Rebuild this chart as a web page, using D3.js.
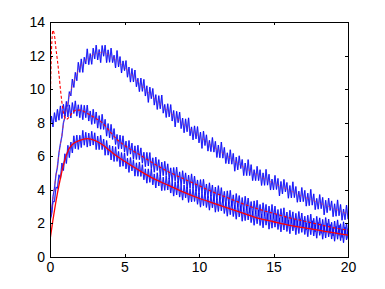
<!DOCTYPE html>
<html>
<head>
<meta charset="utf-8">
<script src="https://cdn.jsdelivr.net/npm/d3@7"></script>
<style>
  body { margin: 0; background: #fff; }
  svg { display: block; }
  .tick text { font-family: "Liberation Sans", Arial, sans-serif; font-size: 14px; fill: #000; }
</style>
</head>
<body>
<script>
var width = 385, height = 289;
var margin = {left: 50, right: 37, top: 22, bottom: 32};

var xTicks = [0, 5, 10, 15, 20];
var yTicks = [0, 2, 4, 6, 8, 10, 12, 14];

// blue noisy measurements, sampled every 0.1 from 0 to 20
var blueA = [2.1,2.6,3.6,4.1,4.9,5.35,6.2,6.75,7.2,8.0,8.3,9.0,9.0,9.85,9.6,10.6,10.1,11.0,10.5,11.6,
  11.0,11.8,11.0,11.9,11.5,12.4,11.46,12.12,11.48,12.44,11.8,12.62,11.74,12.36,11.58,12.6,11.96,12.62,11.58,12.34,
  11.6,12.44,11.58,12.02,11.26,12.3,11.32,11.94,10.96,11.68,11.1,11.7,10.71,11.32,10.42,11.23,10.43,11.14,10.14,10.65,
  9.85,10.66,9.87,10.58,9.59,10.2,9.21,10.12,9.43,10.04,9.05,9.67,8.79,9.61,8.83,9.65,8.57,9.09,8.31,9.13,
  8.35,9.08,8.1,8.73,7.75,8.68,8.0,8.63,7.65,8.28,7.4,8.23,7.46,8.29,7.22,7.75,6.98,7.81,7.04,7.77,
  6.8,7.44,6.47,7.5,6.64,7.28,6.31,6.95,6.28,7.12,6.25,6.89,5.93,6.67,5.91,6.85,5.89,6.53,5.57,6.21,
  5.55,6.39,5.53,6.17,5.11,5.95,5.19,6.03,5.27,5.81,4.85,5.6,4.85,5.8,4.85,5.5,4.55,5.2,4.55,5.4,
  4.55,5.2,4.26,5.01,4.27,5.22,4.28,4.93,3.99,4.64,4.0,4.86,4.02,4.68,3.64,4.5,3.76,4.62,3.88,4.44,
  3.5,4.26,3.52,4.48,3.54,4.2,3.26,3.92,3.28,4.14,3.3,3.97,3.03,3.8,3.06,4.03,3.09,3.76,2.82,3.49,
  2.85,3.72,2.88,3.55,2.51,3.38,2.64,3.51,2.77,3.34,2.4,3.17,2.43,3.4,2.46,3.13,2.19,2.86,2.22,3.09,2.25];

var blueB = [7.7,8.4,7.75,8.6,8.05,8.8,8.15,9.0,8.25,9.1,8.4,9.27,8.34,9.06,8.28,9.2,8.55,9.3,8.39,9.07,
  8.3,9.07,8.18,9.04,8.3,9.05,8.1,8.7,7.9,8.8,7.95,8.64,7.68,8.42,7.61,8.5,7.6,8.2,7.2,7.95,
  7.1,7.9,7.0,7.65,6.7,7.3,6.43,7.26,6.44,7.22,6.25,6.9,6.04,6.94,6.13,6.78,5.82,6.62,5.81,6.66,
  5.8,6.5,5.59,6.24,5.38,6.23,5.42,6.22,5.26,5.91,5.05,5.95,5.15,5.8,4.85,5.65,4.85,5.7,4.85,5.55,
  4.65,5.31,4.47,5.33,4.54,5.35,4.41,5.07,4.23,5.14,4.35,5.01,4.07,4.88,4.09,4.95,4.11,4.82,3.93,4.59,
  3.75,4.61,3.82,4.63,3.69,4.35,3.51,4.42,3.63,4.29,3.35,4.17,3.38,4.25,3.41,4.13,3.24,3.91,3.07,3.94,
  3.15,3.97,3.03,3.7,2.86,3.78,2.99,3.66,2.72,3.54,2.75,3.62,2.79,3.51,2.63,3.3,2.47,3.34,2.56,3.38,
  2.45,3.13,2.3,3.23,2.45,3.13,2.2,3.03,2.25,3.13,2.3,3.03,2.15,2.83,2.0,2.88,2.1,2.93,2.0,2.68,
  1.85,2.78,2.01,2.69,1.77,2.6,1.83,2.71,1.89,2.62,1.75,2.43,1.61,2.49,1.72,2.55,1.63,2.31,1.49,2.42,
  1.65,2.33,1.41,2.24,1.47,2.35,1.53,2.26,1.39,2.07,1.25,2.14,1.37,2.21,1.29,1.98,1.16,2.1,1.33,2.02,1.1];

var blueC = [2.3,2.5,3.3,3.3,4.15,4.1,4.9,4.65,5.6,5.15,6.15,5.57,6.65,5.92,6.85,6.2,7.22,6.45,7.26,6.41,
  7.25,6.52,7.54,6.66,7.43,6.55,7.38,6.61,7.49,6.67,7.4,6.4,7.2,6.4,7.25,6.4,7.03,6.06,6.94,6.07,
  6.65,5.78,6.61,5.69,6.57,5.7,6.29,5.38,6.22,5.41,6.2,5.25,5.89,5.04,5.93,5.13,5.77,4.82,5.61,4.81,
  5.65,4.8,5.5,4.6,5.25,4.4,5.25,4.45,5.25,4.3,4.95,4.11,5.02,4.23,4.89,3.95,4.76,3.97,4.83,3.99,
  4.7,3.81,4.47,3.63,4.49,3.7,4.51,3.57,4.23,3.39,4.3,3.52,4.18,3.25,4.06,3.28,4.14,3.31,4.02,3.14,
  3.8,2.97,3.84,3.06,3.88,2.95,3.62,2.79,3.71,2.93,3.6,2.67,3.49,2.71,3.58,2.75,3.47,2.59,3.26,2.43,
  3.3,2.52,3.34,2.41,3.08,2.25,3.17,2.39,3.06,2.13,2.95,2.17,3.04,2.21,2.93,2.05,2.72,1.89,2.76,1.98,
  2.8,1.88,2.56,1.74,2.67,1.9,2.58,1.66,2.49,1.72,2.6,1.78,2.51,1.64,2.32,1.5,2.38,1.61,2.44,1.52,
  2.2,1.39,2.32,1.56,2.24,1.33,2.16,1.4,2.28,1.47,2.2,1.34,2.02,1.21,2.09,1.33,2.16,1.25,1.93,1.12,
  2.05,1.29,1.97,1.06,1.89,1.13,2.01,1.2,1.93,1.07,1.75,0.94,1.82,1.06,1.89,0.98,1.66,0.85,1.78,1.02,1.7];

// red model curves
var fitAx = [0,0.25,0.5,0.75,1,1.25,1.5,1.75,2,2.5,3,3.5,4,4.5,5,6,7,8,9,10,11,12,13,14,15,16,17,18,19,20];
var fitA  = [2.0,3.8,5.5,7.0,8.4,9.4,10.2,10.8,11.3,11.8,12.1,12.2,12.0,11.7,11.3,10.35,9.45,8.65,7.9,7.2,6.55,5.95,5.35,4.85,4.4,4.0,3.6,3.25,2.9,2.55];

var fitBx = [0,0.05,0.1,0.2,0.3,0.4,0.5,0.6,0.7,0.8,0.9,1.0,1.1,1.25,1.5,1.75,2,2.5,3,3.5,4,4.5,5,6,7,8,9,10,11,12,13,14,15,16,17,18,19,20];
var fitB  = [8.5,10.6,12.3,13.5,13.2,12.4,11.7,10.9,10.0,9.2,8.6,8.3,8.2,8.3,8.6,8.75,8.75,8.55,8.3,8.0,7.5,7.0,6.65,6.1,5.55,5.05,4.65,4.25,3.85,3.5,3.15,2.85,2.6,2.35,2.15,1.95,1.75,1.6];

var fitCx = [0,0.25,0.5,0.75,1,1.25,1.5,2,2.5,3,3.5,4,4.5,5,6,7,8,9,10,11,12,13,14,15,16,17,18,19,20];
var fitC  = [1.0,2.5,3.8,4.9,5.8,6.4,6.7,6.95,7.05,6.95,6.7,6.35,6.0,5.7,5.15,4.65,4.25,3.85,3.5,3.2,2.9,2.6,2.3,2.1,1.9,1.75,1.6,1.45,1.3];

var t = d3.range(201).map(function(i) { return i / 10; });

var x = d3.scaleLinear().domain([0, 20]).range([margin.left, width - margin.right]);
var y = d3.scaleLinear().domain([0, 14]).range([height - margin.bottom, margin.top]);

var svg = d3.select("body").append("svg")
    .attr("width", width)
    .attr("height", height);

svg.append("clipPath").attr("id", "plot")
  .append("rect")
    .attr("x", x(0)).attr("y", y(14))
    .attr("width", x(20) - x(0)).attr("height", y(0) - y(14));

var g = svg.append("g").attr("clip-path", "url(#plot)");

var line = d3.line()
    .x(function(d) { return x(d[0]); })
    .y(function(d) { return y(d[1]); });

var smooth = d3.line()
    .x(function(d) { return x(d[0]); })
    .y(function(d) { return y(d[1]); })
    .curve(d3.curveMonotoneX);

[blueA, blueB, blueC].forEach(function(s) {
  var pts = s.map(function(v, i) { return [t[i], v]; });
  g.append("path").attr("d", line(pts))
    .attr("fill", "none").attr("stroke", "#5a5ae0").attr("stroke-width", 1.5)
    .attr("stroke-opacity", 0.55);
  g.append("path").attr("d", line(pts))
    .attr("fill", "none").attr("stroke", "#0000ff").attr("stroke-width", 0.8);
});

function zip(a, b) { return a.map(function(v, i) { return [v, b[i]]; }); }

g.append("path").attr("d", smooth(zip(fitAx, fitA)))
  .attr("fill", "none").attr("stroke", "#ff3030").attr("stroke-width", 0.8)
  .attr("stroke-dasharray", "3,2,1,2").attr("stroke-opacity", 0.7);

g.append("path").attr("d", smooth(zip(fitBx, fitB)))
  .attr("fill", "none").attr("stroke", "#ff0000").attr("stroke-width", 1.1)
  .attr("stroke-dasharray", "3,2");

g.append("path").attr("d", smooth(zip(fitCx, fitC)))
  .attr("fill", "none").attr("stroke", "#ff0000").attr("stroke-width", 1.3);

// box and ticks, matlab style (ticks pointing in)
var frame = svg.append("g");
frame.append("rect")
    .attr("x", x(0)).attr("y", y(14))
    .attr("width", x(20) - x(0)).attr("height", y(0) - y(14))
    .attr("fill", "none").attr("stroke", "#000").attr("stroke-width", 1)
    .attr("shape-rendering", "crispEdges");

svg.append("g")
    .attr("transform", "translate(0," + y(0) + ")")
    .call(d3.axisBottom(x).tickValues(xTicks).tickSizeInner(-3).tickSizeOuter(0).tickPadding(5))
    .call(function(a) { a.select(".domain").remove(); });

svg.append("g")
    .attr("transform", "translate(0," + y(14) + ")")
    .call(d3.axisTop(x).tickValues(xTicks).tickSizeInner(-3).tickSizeOuter(0).tickFormat(""))
    .call(function(a) { a.select(".domain").remove(); });

svg.append("g")
    .attr("transform", "translate(" + x(0) + ",0)")
    .call(d3.axisLeft(y).tickValues(yTicks).tickSizeInner(-3).tickSizeOuter(0).tickPadding(5))
    .call(function(a) { a.select(".domain").remove(); });

svg.append("g")
    .attr("transform", "translate(" + x(20) + ",0)")
    .call(d3.axisRight(y).tickValues(yTicks).tickSizeInner(-3).tickSizeOuter(0).tickFormat(""))
    .call(function(a) { a.select(".domain").remove(); });

svg.selectAll(".tick line").attr("stroke", "#000").attr("shape-rendering", "crispEdges");
svg.selectAll(".tick text").attr("font-family", null).attr("font-size", null);
</script>
</body>
</html>
